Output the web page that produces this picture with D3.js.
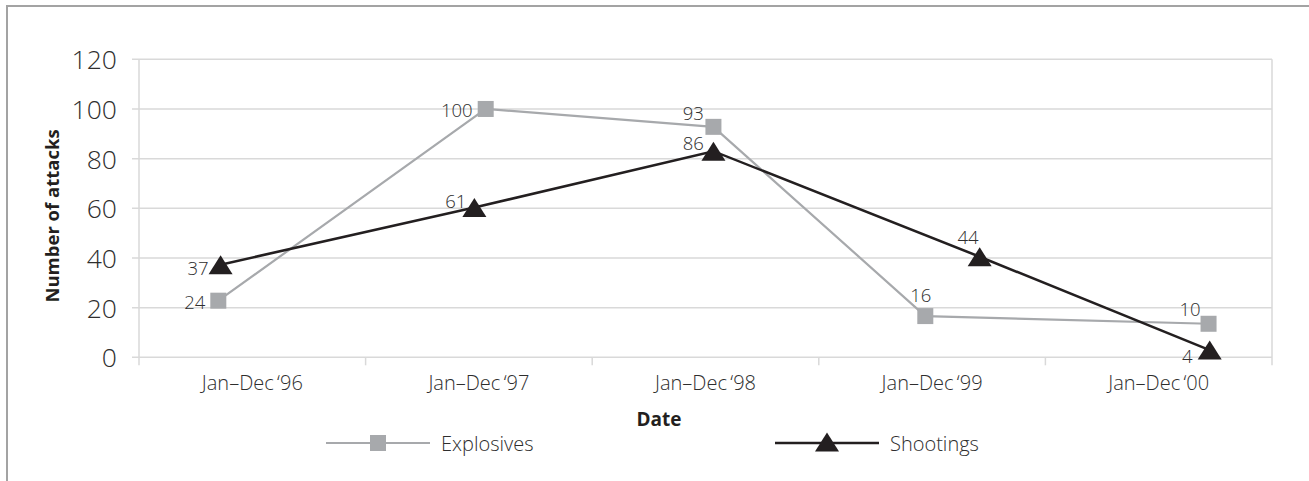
<!DOCTYPE html>
<html>
<head>
<meta charset="utf-8">
<script src="https://cdn.jsdelivr.net/npm/d3@7"></script>
<style>
  html, body { margin: 0; padding: 0; background: #fff; }
  svg { display: block; }
  text { font-family: "Open Sans", "Noto Sans", sans-serif; }
</style>
</head>
<body>
<svg id="chart" width="1309" height="481"></svg>
<script>
// ---- data ----
const categories = ["Jan\u2013Dec\u2009\u201896", "Jan\u2013Dec\u2009\u201897", "Jan\u2013Dec\u2009\u201898", "Jan\u2013Dec\u2009\u201899", "Jan\u2013Dec\u2009\u201800"];
const yTicks = [0, 20, 40, 60, 80, 100, 120];
const seriesNames = ["Explosives", "Shootings"];
// plotted positions (time in years since Jan '96, value)
const explosivesTime = [0.35, 1.53, 2.535, 3.47, 4.72];
const explosivesValues = [22.8, 100, 92.8, 16.6, 13.5];
const explosivesLabels = ["24", "100", "93", "16", "10"];
const shootingsTime = [0.36, 1.48, 2.535, 3.71, 4.725];
const shootingsValues = [37.3, 60.3, 83, 40.5, 2.9];
const shootingsLabels = ["37", "61", "86", "44", "4"];

// ---- layout / style ----
const pL = 139, pR = 1272, pT = 59.3, pB = 357.3;
const grey = "#a7a9ac", black = "#231f20", gridCol = "#d9d9d9", textCol = "#2e2e2e";
const explLabelOff = [[-13, 8, "end"], [-13, 8, "end"], [-9.5, -7, "end"], [6, -14, "end"], [-8, -8, "end"]];
const shootLabelOff = [[-12, 10, "end"], [-8, 0, "end"], [-9.5, -1, "end"], [-1, -13, "end"], [-17, 13, "end"]];

const svg = d3.select("#chart");

// frame
svg.append("path")
  .attr("d", "M7,481 L7,6 L1309,6")
  .attr("fill", "none").attr("stroke", "#a3a3a3").attr("stroke-width", 2);

const x = d3.scaleLinear().domain([0, categories.length]).range([pL, pR]);
const xBand = d3.scaleBand().domain(categories).range([pL, pR]);
const y = d3.scaleLinear().domain([0, 120]).range([pB, pT]);

// gridlines
svg.append("g").selectAll("line").data(yTicks).join("line")
  .attr("x1", pL - 7).attr("x2", pR)
  .attr("y1", d => y(d)).attr("y2", d => y(d))
  .attr("stroke", gridCol).attr("stroke-width", 1.5);

// vertical borders of plot
svg.append("g").selectAll("line").data([0, categories.length]).join("line")
  .attr("x1", d => x(d)).attr("x2", d => x(d))
  .attr("y1", pT).attr("y2", pB + 8)
  .attr("stroke", gridCol).attr("stroke-width", 1.5);

// x category boundary ticks
svg.append("g").selectAll("line").data(d3.range(1, categories.length)).join("line")
  .attr("x1", d => x(d)).attr("x2", d => x(d))
  .attr("y1", pB).attr("y2", pB + 8)
  .attr("stroke", gridCol).attr("stroke-width", 1.5);

// y axis labels
const yAxis = d3.axisLeft(y).tickValues(yTicks).tickSize(7).tickPadding(15);
const gy = svg.append("g").attr("transform", `translate(${pL},0)`).call(yAxis);
gy.select(".domain").remove();
gy.selectAll(".tick line").remove();
gy.selectAll("text")
  .attr("font-family", "'Open Sans', sans-serif")
  .attr("font-size", 26.5).attr("font-weight", 300).attr("fill", textCol)
  .attr("dy", "0.36em");

// x axis labels
const xAxis = d3.axisBottom(xBand).tickSize(0).tickPadding(0);
const gx = svg.append("g").attr("transform", `translate(0,${pB})`).call(xAxis);
gx.select(".domain").remove();
gx.selectAll("text")
  .attr("font-family", "'Open Sans', sans-serif")
  .attr("font-size", 20).attr("font-weight", 300).attr("fill", textCol)
  .attr("y", 32.7).attr("dy", 0);

// axis titles
svg.append("text")
  .attr("transform", "translate(59,216) rotate(-90)")
  .attr("text-anchor", "middle")
  .attr("font-size", 18.5).attr("font-weight", 700).attr("fill", black)
  .text("Number of attacks");
svg.append("text")
  .attr("x", 659).attr("y", 426)
  .attr("text-anchor", "middle")
  .attr("font-size", 19).attr("font-weight", 700).attr("fill", black)
  .text("Date");

// triangle symbol
const triangle = {
  draw(ctx, size) {
    const w = 24, h = 19;
    ctx.moveTo(0, -h / 2);
    ctx.lineTo(w / 2, h / 2);
    ctx.lineTo(-w / 2, h / 2);
    ctx.closePath();
  }
};

const explData = explosivesValues.map((v, i) => ({ t: explosivesTime[i], v, label: explosivesLabels[i], off: explLabelOff[i] }));
const shootData = shootingsValues.map((v, i) => ({ t: shootingsTime[i], v, label: shootingsLabels[i], off: shootLabelOff[i] }));

const line = d3.line().x(d => x(d.t)).y(d => y(d.v));

// explosives
svg.append("path").datum(explData)
  .attr("d", line).attr("fill", "none").attr("stroke", grey).attr("stroke-width", 2.2);
svg.append("g").selectAll("rect").data(explData).join("rect")
  .attr("x", d => x(d.t) - 8).attr("y", d => y(d.v) - 8)
  .attr("width", 16).attr("height", 16).attr("fill", grey);

// shootings
svg.append("path").datum(shootData)
  .attr("d", line).attr("fill", "none").attr("stroke", black).attr("stroke-width", 2.5);
svg.append("g").selectAll("path").data(shootData).join("path")
  .attr("transform", d => `translate(${x(d.t)},${y(d.v)})`)
  .attr("d", d3.symbol(triangle)).attr("fill", black);

// data labels
function labels(data) {
  svg.append("g").selectAll("text").data(data).join("text")
    .attr("x", d => x(d.t) + d.off[0]).attr("y", d => y(d.v) + d.off[1])
    .attr("text-anchor", d => d.off[2])
    .attr("font-size", 18.5).attr("font-weight", 300).attr("fill", textCol)
    .text(d => d.label);
}
labels(explData);
labels(shootData);

// legend
const legend = svg.append("g");
const legItems = [
  { name: seriesNames[0], cx: 378, color: grey, w: 2.2, marker: "square" },
  { name: seriesNames[1], cx: 827, color: black, w: 2.5, marker: "triangle" }
];
const ly = 443;
legItems.forEach(it => {
  legend.append("line").attr("x1", it.cx - 52).attr("x2", it.cx + 52)
    .attr("y1", ly).attr("y2", ly).attr("stroke", it.color).attr("stroke-width", it.w);
  if (it.marker === "square") {
    legend.append("rect").attr("x", it.cx - 8).attr("y", ly - 8).attr("width", 16).attr("height", 16).attr("fill", it.color);
  } else {
    legend.append("path").attr("transform", `translate(${it.cx},${ly - 1})`).attr("d", d3.symbol(triangle)).attr("fill", it.color);
  }
  legend.append("text").attr("x", it.cx + 63).attr("y", ly + 7.5)
    .attr("font-size", 20).attr("font-weight", 300).attr("fill", textCol)
    .text(it.name);
});
</script>
</body>
</html>
